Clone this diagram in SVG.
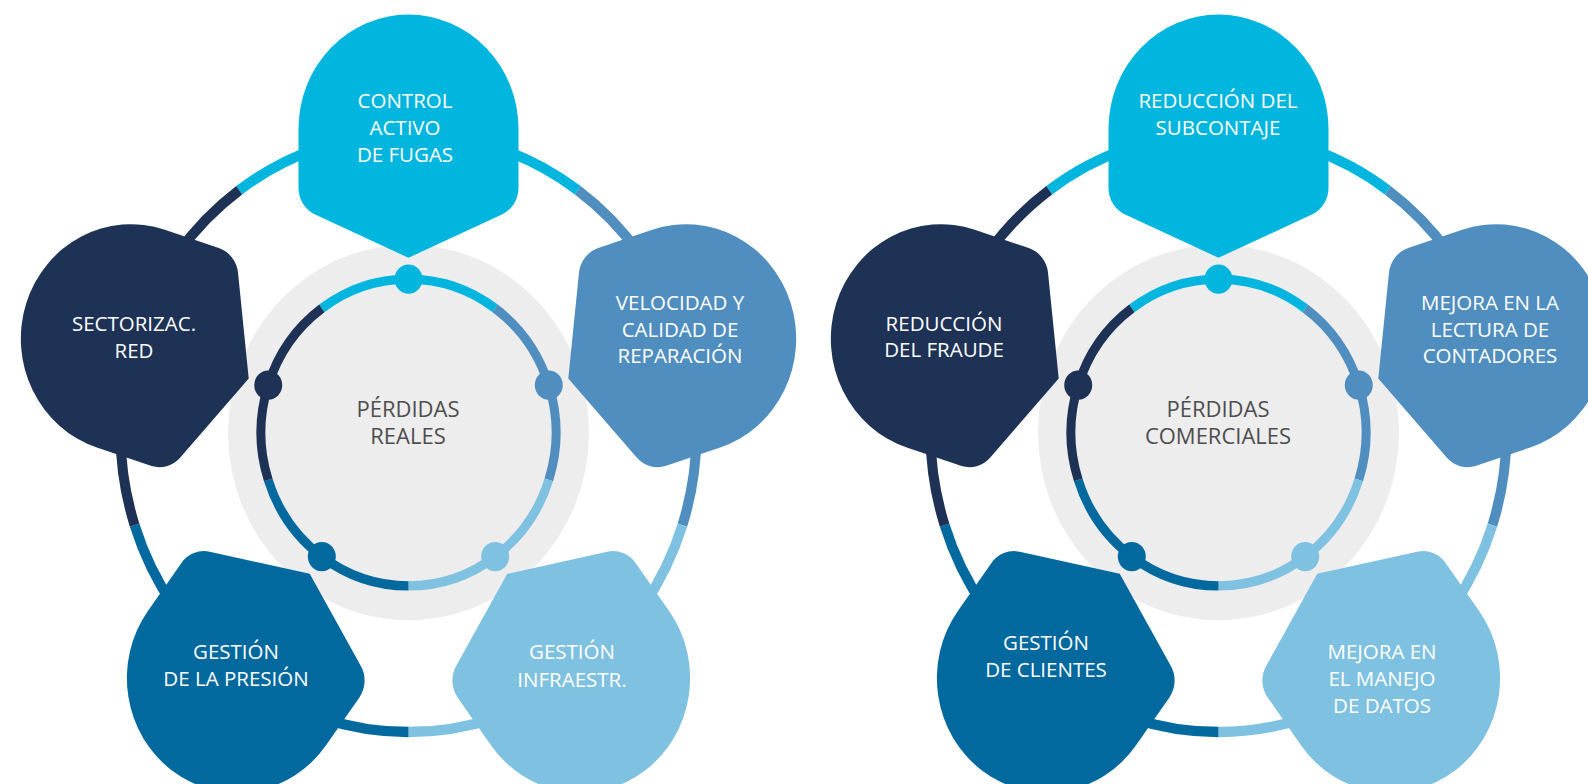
<svg xmlns="http://www.w3.org/2000/svg" xmlns:xlink="http://www.w3.org/1999/xlink" width="1588" height="784" viewBox="0 0 1588 784">
<style>
.bg{fill:#EDEDED}
.seg{fill:none;stroke-linecap:butt}
.outer{stroke-width:10}
.inner{stroke-width:9}
.c1{fill:#00B6DE}.s1{stroke:#00B6DE}
.c2{fill:#508EC0}.s2{stroke:#508EC0}
.c3{fill:#7FC1E0}.s3{stroke:#7FC1E0}
.c4{fill:#02699F}.s4{stroke:#02699F}
.c5{fill:#1E3256}.s5{stroke:#1E3256}
.nt{font-family:"Open Sans","Liberation Sans",sans-serif;font-size:20.5px;fill:#FFFFFF;text-anchor:middle}
.ct{font-family:"Open Sans","Liberation Sans",sans-serif;font-size:22px;fill:#4D4D4D;text-anchor:middle}
</style>
<defs>
<path id="bullet" d="M0,-168 L93.4,-209.6 A28,28 0 0 0 110,-235.2 L110,-292 A110,110 0 0 0 -110,-292 L-110,-235.2 A28,28 0 0 0 -93.4,-209.6 Z"/>
<g id="rings">
<circle class="bg" cx="0" cy="0" r="180.5"/>
<path class="seg outer s1" d="M-169.28,-232.99 A288,288 0 0 1 169.28,-232.99"/>
<path class="seg outer s2" d="M169.28,-232.99 A288,288 0 0 1 273.91,89"/>
<path class="seg outer s3" d="M273.91,89 A288,288 0 0 1 0,288"/>
<path class="seg outer s4" d="M0,288 A288,288 0 0 1 -273.91,89"/>
<path class="seg outer s5" d="M-273.91,89 A288,288 0 0 1 -169.28,-232.99"/>
<path class="seg inner s1" d="M-86.7,-119.33 A147.5,147.5 0 0 1 86.7,-119.33"/>
<path class="seg inner s2" d="M86.7,-119.33 A147.5,147.5 0 0 1 140.28,45.58"/>
<path class="seg inner s3" d="M140.28,45.58 A147.5,147.5 0 0 1 0,147.5"/>
<path class="seg inner s4" d="M0,147.5 A147.5,147.5 0 0 1 -140.28,45.58"/>
<path class="seg inner s5" d="M-140.28,45.58 A147.5,147.5 0 0 1 -86.7,-119.33"/>
<circle class="c1" cx="0" cy="-147.5" r="14"/>
<circle class="c2" cx="140.28" cy="-45.58" r="14"/>
<circle class="c3" cx="86.7" cy="119.33" r="14"/>
<circle class="c4" cx="-86.7" cy="119.33" r="14"/>
<circle class="c5" cx="-140.28" cy="-45.58" r="14"/>
</g>
</defs>

<g id="connectors">
<use href="#rings" transform="translate(408.5,432.5) scale(1,1.04)"/>
<use href="#rings" transform="translate(1218.5,432.5) scale(1,1.04)"/>
</g>

<g id="left-center"><text class="ct"><tspan x="408" y="417">PÉRDIDAS</tspan><tspan x="408" y="444">REALES</tspan></text></g>

<g id="left-top">
<use href="#bullet" class="c1" transform="translate(408.5,432.5) scale(1,1.04)"/>
<text class="nt"><tspan x="405" y="108">CONTROL</tspan><tspan x="405" y="135">ACTIVO</tspan><tspan x="405" y="162">DE FUGAS</tspan></text>
</g>
<g id="left-right">
<use href="#bullet" class="c2" transform="translate(408.5,432.5) scale(1,1.04) rotate(72)"/>
<text class="nt"><tspan x="680" y="310">VELOCIDAD Y</tspan><tspan x="680" y="337">CALIDAD DE</tspan><tspan x="680" y="363">REPARACIÓN</tspan></text>
</g>
<g id="left-bottom-right">
<use href="#bullet" class="c3" transform="translate(408.5,432.5) scale(1,1.04) rotate(144)"/>
<text class="nt"><tspan x="572" y="659">GESTIÓN</tspan><tspan x="572" y="687">INFRAESTR.</tspan></text>
</g>
<g id="left-bottom-left">
<use href="#bullet" class="c4" transform="translate(408.5,432.5) scale(1,1.04) rotate(216)"/>
<text class="nt"><tspan x="236" y="659">GESTIÓN</tspan><tspan x="236" y="686">DE LA PRESIÓN</tspan></text>
</g>
<g id="left-left">
<use href="#bullet" class="c5" transform="translate(408.5,432.5) scale(1,1.04) rotate(288)"/>
<text class="nt"><tspan x="134" y="331">SECTORIZAC.</tspan><tspan x="134" y="358">RED</tspan></text>
</g>

<g id="right-center"><text class="ct"><tspan x="1218" y="417">PÉRDIDAS</tspan><tspan x="1218" y="444">COMERCIALES</tspan></text></g>

<g id="right-top">
<use href="#bullet" class="c1" transform="translate(1218.5,432.5) scale(1,1.04)"/>
<text class="nt"><tspan x="1218" y="108">REDUCCIÓN DEL</tspan><tspan x="1218" y="135">SUBCONTAJE</tspan></text>
</g>
<g id="right-right">
<use href="#bullet" class="c2" transform="translate(1218.5,432.5) scale(1,1.04) rotate(72)"/>
<text class="nt"><tspan x="1490" y="310">MEJORA EN LA</tspan><tspan x="1490" y="337">LECTURA DE</tspan><tspan x="1490" y="363">CONTADORES</tspan></text>
</g>
<g id="right-bottom-right">
<use href="#bullet" class="c3" transform="translate(1218.5,432.5) scale(1,1.04) rotate(144)"/>
<text class="nt"><tspan x="1382" y="659">MEJORA EN</tspan><tspan x="1382" y="686">EL MANEJO</tspan><tspan x="1382" y="713">DE DATOS</tspan></text>
</g>
<g id="right-bottom-left">
<use href="#bullet" class="c4" transform="translate(1218.5,432.5) scale(1,1.04) rotate(216)"/>
<text class="nt"><tspan x="1046" y="650">GESTIÓN</tspan><tspan x="1046" y="677">DE CLIENTES</tspan></text>
</g>
<g id="right-left">
<use href="#bullet" class="c5" transform="translate(1218.5,432.5) scale(1,1.04) rotate(288)"/>
<text class="nt"><tspan x="944" y="331">REDUCCIÓN</tspan><tspan x="944" y="357">DEL FRAUDE</tspan></text>
</g>
</svg>
